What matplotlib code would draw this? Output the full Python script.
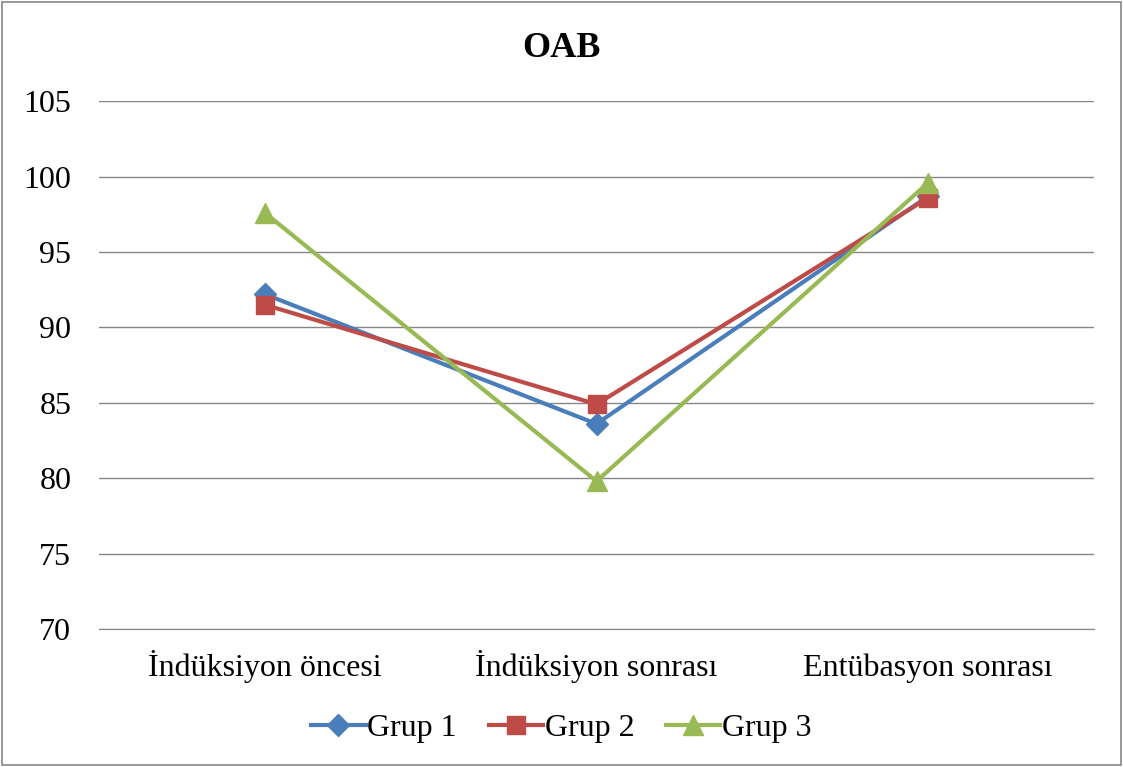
import matplotlib.pyplot as plt

categories = ["İndüksiyon öncesi", "İndüksiyon sonrası", "Entübasyon sonrası"]
grup1 = [92.2, 83.6, 98.7]
grup2 = [91.5, 84.9, 98.6]
grup3 = [97.6, 79.8, 99.6]
y_ticks = [70, 75, 80, 85, 90, 95, 100, 105]

plt.rcParams['font.family'] = ['Liberation Serif', 'DejaVu Serif']

fig = plt.figure(figsize=(11.23, 7.67), dpi=100)
ax = fig.add_axes([0.0882, 0.180, 0.886, 0.688])

x = range(len(categories))
ax.plot(x, grup1, color="#4A7EBB", lw=3, marker="D", ms=11, label="Grup 1")
ax.plot(x, grup2, color="#BE4B48", lw=3, marker="s", ms=13, label="Grup 2")
ax.plot(x, grup3, color="#98B954", lw=3, marker="^", ms=15, label="Grup 3")

ax.set_xlim(-0.5, 2.5)
ax.set_ylim(70, 105)
ax.set_yticks(y_ticks)
ax.set_xticks(list(x))
ax.set_xticklabels(categories)
ax.tick_params(axis="both", length=0, labelsize=23)
ax.tick_params(axis="x", pad=34)
ax.tick_params(axis="y", pad=20)
for lbl in ax.get_xticklabels():
    lbl.set_verticalalignment("baseline")
ax.grid(axis="y", color="#868686", lw=1)
ax.set_axisbelow(True)
for s in ["top", "right", "left"]:
    ax.spines[s].set_visible(False)
ax.spines["bottom"].set_color("#868686")

fig.suptitle("OAB", fontsize=26, fontweight="bold", y=0.958)
fig.legend(loc="center", bbox_to_anchor=(0.5, 0.05), ncol=3, frameon=False,
           fontsize=23, handlelength=1.7, handletextpad=0.05, columnspacing=1.0)

# thin grey border round the whole chart
fig.patches.append(plt.Rectangle((0.002, 0.002), 0.996, 0.996, transform=fig.transFigure,
                                 fill=False, edgecolor="#868686", lw=1.2))

fig.savefig("out.png", dpi=100)
